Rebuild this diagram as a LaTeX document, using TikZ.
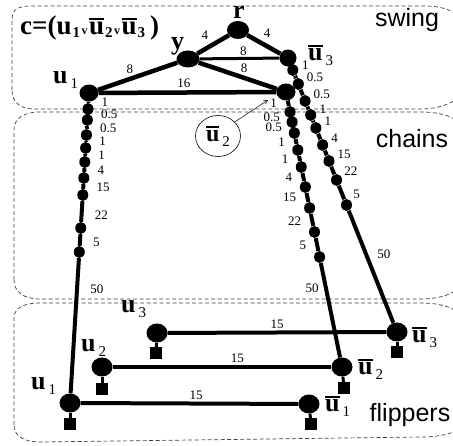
\documentclass[tikz,border=0pt]{standalone}
\usepackage{fontspec}
\setmainfont{Liberation Serif}
\newfontfamily\regionfont{Liberation Sans}
\usetikzlibrary{shapes.geometric,arrows.meta}

% literal labels: bold u, optional bar, lowered index
\newcommand{\ubar}{\rlap{\rule[0.54em]{0.556em}{0.09em}}u}
\newcommand{\lit}[2]{{\bfseries #1}\hspace{3pt}\raisebox{-5pt}{\fontsize{15}{15}\selectfont #2}}
\newcommand{\csub}[1]{\hspace{1pt}\raisebox{-3pt}{\fontsize{15}{15}\selectfont #1}}
\newcommand{\vsym}{\hspace{1.5pt}{\fontsize{12}{12}\selectfont v}\hspace{1.5pt}}

\tikzset{
  region/.style={draw=black!75, line width=0.7pt, dash pattern=on 4pt off 2.5pt},
  hub/.style={ellipse, fill=black, inner sep=0pt, minimum width=19pt, minimum height=17pt},
  bead/.style={ellipse, fill=black, inner sep=0pt, minimum width=11pt, minimum height=12pt},
  flip/.style={ellipse, fill=black, inner sep=0pt, minimum width=21pt, minimum height=19pt},
  foot/.style={rectangle, fill=black, inner sep=0pt, minimum size=11.5pt},
  heavy/.style={line width=4.5pt},
  light/.style={line width=3pt},
  link/.style={line width=4pt},
  stem/.style={line width=3pt},
  wl/.style={font=\fontsize{13}{13}\selectfont, inner sep=0.3pt},
  lab/.style={font=\fontsize{26}{26}\selectfont, inner sep=0pt, anchor=base west},
  regionlab/.style={font=\regionfont\fontsize{25}{25}\selectfont, inner sep=0pt, anchor=base}
}

\begin{document}
\begin{tikzpicture}[x=1pt,y=-1pt]
  \useasboundingbox (0,0) rectangle (453,446);
  \clip (0,0) rectangle (453,446);

  % dashed regions
  \draw[region] (12,90) -- (12,20) .. controls (12,9) and (18,6) .. (32,6)
    -- (425,6) .. controls (445,6) and (460,12) .. (470,30) -- (470,85)
    .. controls (460,100) and (445,109) .. (420,109) -- (34,109)
    .. controls (20,109) and (12,102) .. (12,90) -- cycle;
  \draw[region] (14,280) -- (14,130) .. controls (14,118) and (24,112) .. (40,112)
    -- (420,112) .. controls (445,112) and (460,118) .. (470,135) -- (470,275)
    .. controls (460,292) and (445,299) .. (420,299) -- (40,299)
    .. controls (24,299) and (14,292) .. (14,280) -- cycle;
  \draw[region] (14,425) -- (14,318) .. controls (14,308) and (24,303) .. (40,303)
    -- (420,303) .. controls (445,303) and (460,309) .. (470,325) -- (470,420)
    .. controls (460,432) and (445,437) .. (420,437) -- (40,442)
    .. controls (24,442) and (14,436) .. (14,425) -- cycle;
  \node[regionlab] (tswing) at (407,27) {swing};
  \node[regionlab] (tchains) at (412,148) {chains};
  \node[regionlab] (tflip) at (410,422) {flippers};

  % clause
  \node[anchor=base west, inner sep=0pt, font=\fontsize{27}{27}\selectfont\bfseries]
    (clause) at (20,35) {c=(u\csub{1}\vsym\ubar\csub{2}\vsym\ubar\csub{3}\hspace{5pt})};

  % swing
  \node[hub, minimum width=22pt, minimum height=18pt] (r) at (238,30) {};
  \node[hub, minimum width=23pt] (y) at (188,59) {};
  \node[hub] (su1) at (89,93) {};
  \node[hub, minimum width=17pt] (snu3) at (288,58) {};
  \node[hub] (snu2) at (286,92) {};
  \node[lab, anchor=base] (lr) at (239,19) {\bfseries r};
  \node[lab] (ly) at (171,50) {\bfseries y};
  \node[lab] (lsu1) at (53,84) {\lit{u}{1}};
  \node[lab] (lsnu3) at (308,61) {\lit{\ubar}{3}};
  \draw[heavy] (su1) -- node[wl, pos=.4, above=3pt] {8} (y);
  \draw[heavy] (su1) -- node[wl, pos=.48, above=2pt] {16} (snu2);
  \draw[light] (y) -- node[wl, pos=.55, above=1pt] {8} (snu3);
  \draw[heavy] (y) -- node[wl, pos=.58, above=3pt] {8} (snu2);
  \draw[heavy] (r) -- node[wl, pos=.76, above=7pt] {4} (y);
  \draw[heavy] (r) -- node[wl, pos=.6, above=6pt] {4} (snu3);

  % flippers
  \node[flip] (fu1) at (70,403) {};
  \node[flip] (fu2) at (102,367) {};
  \node[flip] (fu3) at (157,333) {};
  \node[flip] (fnu1) at (309,404) {};
  \node[flip] (fnu2) at (342,367) {};
  \node[flip] (fnu3) at (397,332) {};
  \node[foot] (fu1f) at (70,424) {};
  \node[foot] (fu2f) at (102,389) {};
  \node[foot] (fu3f) at (156,353) {};
  \node[foot] (fnu1f) at (311,424) {};
  \node[foot] (fnu2f) at (344,388) {};
  \node[foot] (fnu3f) at (397,352) {};
  \foreach \f in {fu1,fu2,fu3,fnu1,fnu2,fnu3}
    \draw[stem] (\f) -- (\f f);
  \draw[link] (fu1) -- node[wl, pos=.53, above=2pt] {15} (fnu1);
  \draw[link] (fu2) -- node[wl, pos=.57, above=2pt] {15} (fnu2);
  \draw[link] (fu3) -- node[wl, pos=.5, above=2pt] {15} (fnu3);
  \node[lab] (lfu1) at (31,390) {\lit{u}{1}};
  \node[lab] (lfu2) at (81,352) {\lit{u}{2}};
  \node[lab] (lfu3) at (121,313) {\lit{u}{3}};
  \node[lab] (lfnu1) at (325,412) {\lit{\ubar}{1}};
  \node[lab] (lfnu2) at (358,375) {\lit{\ubar}{2}};
  \node[lab] (lfnu3) at (412,343) {\lit{\ubar}{3}};

  % chains
  \foreach \n/\yy in {1/109,2/120,3/135,4/148,5/162,6/178,7/195,8/228,9/252}
    \node[bead] (a\n) at ({89-0.061*(\yy-93)},\yy) {};
  \foreach \n/\yy in {1/112,2/122,3/133,4/150,5/167,6/187,7/208,8/232,9/257}
    \node[bead] (b\n) at ({286+0.2036*(\yy-92)},\yy) {};
  \foreach \n/\yy in {1/70,2/84,3/101,4/115,5/128,6/145,7/161,8/180,9/205}
    \node[bead] (c\n) at ({288+0.398*(\yy-58)},\yy) {};
  \foreach \s/\t/\w/\p in {su1/a1/1/.75, a1/a2/0.5/.95, a2/a3/0.5/.87, a3/a4/1/.77,
      a4/a5/1/.71, a5/a6/4/.69, a6/a7/15/.59, a7/a8/22/.67, a8/a9/5/.71, a9/fu1/50/.23}
    \draw[link] (\s) -- node[wl, pos=\p, right=11pt] {\w} (\t);
  \foreach \s/\t/\w/\p/\d in {snu2/b1/1/.5/9, b1/b2/0.5/.4/9, b2/b3/0.5/.85/9, b3/b4/1/.7/9,
      b4/b5/1/.59/9, b5/b6/4/.55/9, b6/b7/15/.52/9, b7/b8/22/.62/9, b8/b9/5/.6/9, b9/fnu2/50/.27/5}
    \draw[link] (\s) -- node[wl, pos=\p, left=\d pt] {\w} (\t);
  \foreach \s/\t/\w/\p in {snu3/c1/1/.58, c1/c2/0.5/.57, c2/c3/0.5/.8, c3/c4/1/.79,
      c4/c5/1/.6, c5/c6/4/.82, c6/c7/15/.75, c7/c8/22/.63, c8/c9/5/.6, c9/fnu3/50/.39}
    \draw[link] (\s) -- node[wl, pos=\p, right=9pt] {\w} (\t);

  % callout
  \node[draw, ellipse, line width=0.6pt, minimum width=45pt, minimum height=41pt, inner sep=0pt,
    font=\fontsize{24}{24}\selectfont] (call) at (218,136) {\lit{\ubar}{2}};
  \coordinate (tip) at (268,100);
  \draw[line width=0.5pt, -{Straight Barb[length=4pt,width=4pt]}] (call.40) -- (tip);
\end{tikzpicture}
\end{document}
